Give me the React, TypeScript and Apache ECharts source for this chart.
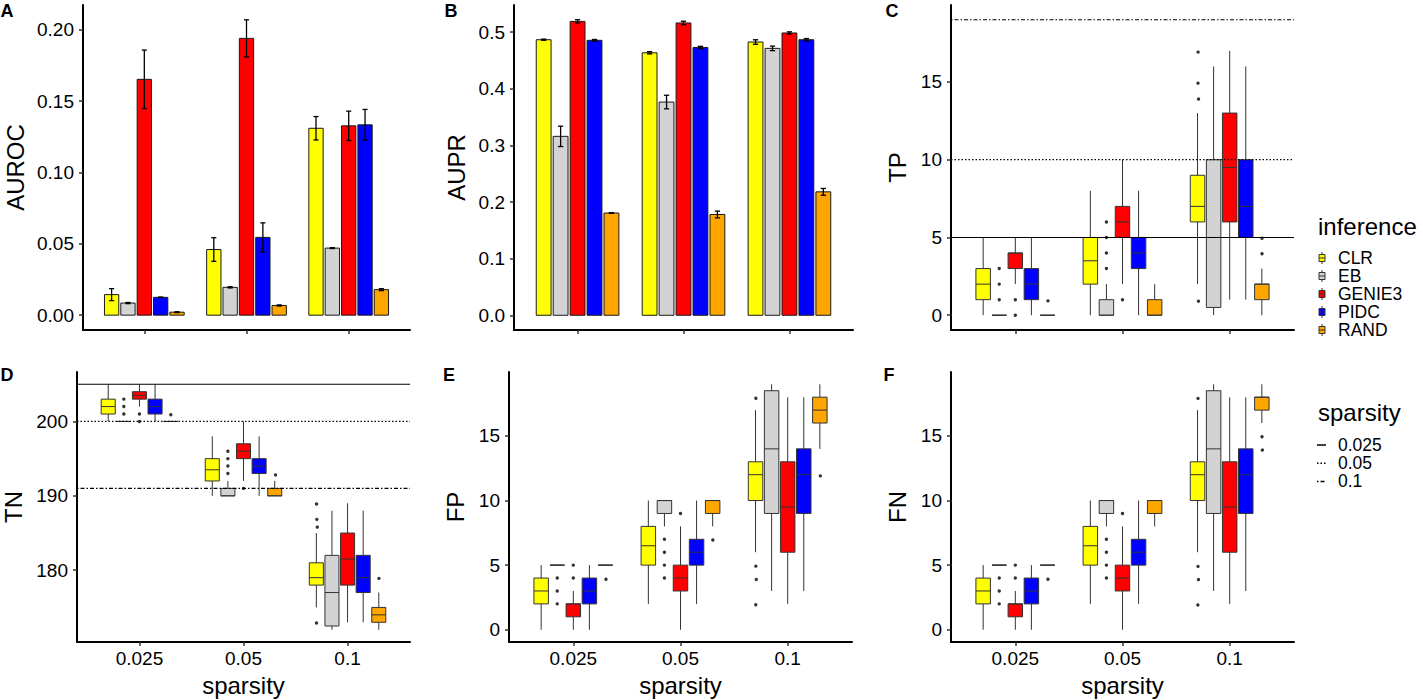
import React, { useEffect, useRef } from 'react';
import * as echarts from 'echarts';

// ---------------- data ----------------
const METHODS = ['CLR', 'EB', 'GENIE3', 'PIDC', 'RAND'];
const METHOD_COLORS = ['#FFFF00', '#D3D3D3', '#FF0000', '#0000FF', '#FFA500'];
const SPARSITY = ['0.025', '0.05', '0.1'];

// AUROC mean / error, [method][sparsity]
const aurocMean = [
  [0.0144, 0.046, 0.131],
  [0.0085, 0.0195, 0.047],
  [0.1653, 0.194, 0.1327],
  [0.0125, 0.0545, 0.1334],
  [0.0021, 0.0068, 0.0179],
];
const aurocErr = [
  [0.0042, 0.0083, 0.0082],
  [0.0004, 0.0004, 0.0003],
  [0.0205, 0.013, 0.0103],
  [0.0002, 0.0102, 0.0108],
  [0.0003, 0.0004, 0.0007],
];

// AUPR mean / error
const auprMean = [
  [0.4867, 0.4636, 0.4826],
  [0.316, 0.3766, 0.4714],
  [0.519, 0.5163, 0.4986],
  [0.4856, 0.473, 0.4867],
  [0.1806, 0.178, 0.218],
];
const auprErr = [
  [0.001, 0.002, 0.004],
  [0.018, 0.012, 0.004],
  [0.003, 0.003, 0.002],
  [0.0015, 0.002, 0.002],
  [0.0005, 0.006, 0.006],
];

// Box stats [min, q1, median, q3, max], [method][sparsity]
const tpStats = [
  [[0, 1, 2, 3, 5], [0, 2, 3.5, 5, 8], [2, 6, 7, 9, 13]],
  [[0, 0, 0, 0, 0], [0, 0, 0, 1, 2], [0, 0.5, 5, 10, 16]],
  [[2, 3, 4, 4, 5], [2, 5, 6, 7, 10], [1, 6, 9.5, 13, 17]],
  [[0, 1, 2, 3, 5], [0, 3, 4, 5, 8], [1, 5, 7, 10, 16]],
  [[0, 0, 0, 0, 0], [0, 0, 0, 1, 2], [0, 1, 2, 2, 3]],
];
const tpOutliers = [
  [[], [], [1, 14, 15, 17]],
  [[1, 2, 3], [3, 4, 5, 6], []],
  [[0, 1], [1], []],
  [[], [], []],
  [[1], [], [4, 5]],
];
const tpLines = [5, 10, 19];

const tnStats = [
  [[200, 201, 202, 203, 205], [190, 192, 193.5, 195, 198], [175, 178, 179, 181, 185]],
  [[200, 200, 200, 200, 200], [190, 190, 190, 191, 192], [172, 172.5, 177, 182, 188]],
  [[202, 203, 203.5, 204, 205], [192, 195, 196, 197, 200], [173, 178, 181.5, 185, 189]],
  [[200, 201, 202, 203, 205], [190, 193, 194, 195, 198], [173, 177, 179, 182, 188]],
  [[200, 200, 200, 200, 200], [190, 190, 190, 191, 192], [172, 173, 174, 175, 177]],
];
const tnOutliers = [
  [[], [], [173, 186, 187, 189]],
  [[201, 202, 203], [193, 194, 195, 196], []],
  [[200, 201], [191], []],
  [[], [], []],
  [[201], [193], [179]],
];
const tnLines = [205, 200, 191];

const fpStats = [
  [[0, 2, 3, 4, 5], [2, 5, 6.5, 8, 10], [6, 10, 12, 13, 17]],
  [[5, 5, 5, 5, 5], [8, 9, 10, 10, 10], [3, 9, 14, 18.5, 19]],
  [[0, 1, 2, 2, 3], [0, 3, 4, 5, 8], [2, 6, 9.5, 13, 18]],
  [[0, 2, 3, 4, 5], [2, 5, 6, 7, 10], [3, 9, 12, 14, 18]],
  [[5, 5, 5, 5, 5], [8, 9, 10, 10, 10], [14, 16, 17, 18, 19]],
];
const fpOutliers = [
  [[], [], [2, 4, 5, 18]],
  [[2, 3, 4], [4, 5, 6, 7], []],
  [[4, 5], [9], []],
  [[], [], []],
  [[4], [7], [12]],
];

const fnStats = [
  [[0, 2, 3, 4, 5], [2, 5, 6.5, 8, 10], [6, 10, 12, 13, 17]],
  [[5, 5, 5, 5, 5], [8, 9, 10, 10, 10], [3, 9, 14, 18.5, 19]],
  [[0, 1, 2, 2, 3], [0, 3, 4, 5, 8], [2, 6, 9.5, 13, 18]],
  [[0, 2, 3, 4, 5], [2, 5, 6, 7, 10], [3, 9, 12, 14, 18]],
  [[5, 5, 5, 5, 5], [8, 9, 10, 10, 10], [16, 17, 18, 18, 19]],
];
const fnOutliers = [
  [[], [], [2, 4, 5, 18]],
  [[2, 3, 4], [4, 5, 6, 7], []],
  [[4, 5], [9], []],
  [[], [], []],
  [[4], [], [14, 15]],
];

// tick labels
const aurocTicks = [0, 0.05, 0.1, 0.15, 0.2];
const auprTicks = [0, 0.1, 0.2, 0.3, 0.4, 0.5];
const countTicks = [0, 5, 10, 15];
const tnTicks = [180, 190, 200];
const LINE_STYLES = ['0.025', '0.05', '0.1'];

// ---------------- layout / style ----------------
const FONT = '"Liberation Sans", Arial, Helvetica, sans-serif';
const BAR_DODGE = 0.16;
const BAR_W = 0.14;
const ERR_CAP = 0.05;
const BOX_DODGE = 0.15;
const BOX_W = 0.135;
const DASHES: (number[] | null)[] = [null, [1.5, 2], [1.5, 2, 4, 2]];

const PANELS = [
  { grid: { left: 83, top: 5, width: 327, height: 325 }, min: -0.0104, max: 0.2174, ticks: aurocTicks, fmt: (v: number) => v.toFixed(2), name: 'AUROC', gap: 56, letter: 'A', lx: 7, ly: 11 },
  { grid: { left: 514, top: 5, width: 339, height: 325 }, min: -0.026, max: 0.548, ticks: auprTicks, fmt: (v: number) => v.toFixed(1), name: 'AUPR', gap: 46, letter: 'B', lx: 451, ly: 11 },
  { grid: { left: 951, top: 5, width: 343, height: 325 }, min: -0.95, max: 19.95, ticks: countTicks, fmt: (v: number) => String(v), name: 'TP', gap: 42, letter: 'C', lx: 892, ly: 11 },
  { grid: { left: 77, top: 372, width: 333, height: 270 }, min: 170.35, max: 206.65, ticks: tnTicks, fmt: (v: number) => String(v), name: 'TN', gap: 52, letter: 'D', lx: 7, ly: 375 },
  { grid: { left: 509, top: 372, width: 343, height: 270 }, min: -0.95, max: 19.95, ticks: countTicks, fmt: (v: number) => String(v), name: 'FP', gap: 42, letter: 'E', lx: 449, ly: 375 },
  { grid: { left: 951, top: 372, width: 343, height: 270 }, min: -0.95, max: 19.95, ticks: countTicks, fmt: (v: number) => String(v), name: 'FN', gap: 42, letter: 'F', lx: 889, ly: 375 },
];

function barSeries(panel: number, means: number[][], errs: number[][]) {
  return METHODS.map((name, m) => ({
    type: 'custom',
    name,
    xAxisIndex: panel,
    yAxisIndex: panel,
    encode: { x: 0, y: 1 },
    data: SPARSITY.map((_, s) => [s + 1, means[m][s], errs[m][s]]),
    renderItem: (_p: any, api: any) => {
      const s = api.value(0);
      const v = api.value(1);
      const e = api.value(2);
      const xc = s + (m - 2) * BAR_DODGE;
      const tl = api.coord([xc - BAR_W / 2, v]);
      const br = api.coord([xc + BAR_W / 2, 0]);
      const et = api.coord([xc, v + e]);
      const eb = api.coord([xc, v - e]);
      const cl = api.coord([xc - ERR_CAP / 2, v]);
      const cw = et[0] - cl[0];
      const es = { stroke: '#000', lineWidth: 1.3 };
      return {
        type: 'group',
        children: [
          { type: 'rect', shape: { x: tl[0], y: tl[1], width: br[0] - tl[0], height: br[1] - tl[1] }, style: { fill: METHOD_COLORS[m], stroke: '#1a1a1a', lineWidth: 1 } },
          { type: 'line', shape: { x1: et[0], y1: et[1], x2: eb[0], y2: eb[1] }, style: es },
          { type: 'line', shape: { x1: et[0] - cw, y1: et[1], x2: et[0] + cw, y2: et[1] }, style: es },
          { type: 'line', shape: { x1: eb[0] - cw, y1: eb[1], x2: eb[0] + cw, y2: eb[1] }, style: es },
        ],
      };
    },
  }));
}

function boxSeries(panel: number, stats: number[][][], outliers: number[][][], lines: number[] | null) {
  const series: any[] = METHODS.map((name, m) => ({
    type: 'custom',
    name,
    xAxisIndex: panel,
    yAxisIndex: panel,
    encode: { x: 0, y: [1, 2, 3, 4, 5] },
    data: SPARSITY.map((_, s) => [s + 1, ...stats[m][s]]),
    renderItem: (_p: any, api: any) => {
      const s = api.value(0);
      const mn = api.value(1), q1 = api.value(2), md = api.value(3), q3 = api.value(4), mx = api.value(5);
      const xc = s + (m - 2) * BOX_DODGE;
      const pMin = api.coord([xc, mn]);
      const pMax = api.coord([xc, mx]);
      const pQ1 = api.coord([xc - BOX_W / 2, q1]);
      const pQ3 = api.coord([xc + BOX_W / 2, q3]);
      const pMd = api.coord([xc, md]);
      const st = { stroke: '#333', lineWidth: 1 };
      return {
        type: 'group',
        children: [
          { type: 'line', shape: { x1: pMin[0], y1: pMin[1], x2: pMin[0], y2: pQ1[1] }, style: st },
          { type: 'line', shape: { x1: pMax[0], y1: pMax[1], x2: pMax[0], y2: pQ3[1] }, style: st },
          { type: 'rect', shape: { x: pQ1[0], y: pQ3[1], width: pQ3[0] - pQ1[0], height: pQ1[1] - pQ3[1] }, style: { fill: METHOD_COLORS[m], stroke: '#333', lineWidth: 1 } },
          { type: 'line', shape: { x1: pQ1[0], y1: pMd[1], x2: pQ3[0], y2: pMd[1] }, style: st },
        ],
      };
    },
  }));
  const od: number[][] = [];
  METHODS.forEach((_, m) => SPARSITY.forEach((_, s) => outliers[m][s].forEach((v) => od.push([s + 1, v, m]))));
  series.push({
    type: 'custom',
    name: 'outliers',
    xAxisIndex: panel,
    yAxisIndex: panel,
    encode: { x: 0, y: 1 },
    data: od,
    renderItem: (_p: any, api: any) => {
      const p = api.coord([api.value(0) + (api.value(2) - 2) * BOX_DODGE, api.value(1)]);
      return { type: 'circle', shape: { cx: p[0], cy: p[1], r: 1.7 }, style: { fill: '#333' } };
    },
  });
  if (lines) {
    series.push({
      type: 'custom',
      name: 'hlines',
      xAxisIndex: panel,
      yAxisIndex: panel,
      z: 5,
      encode: { x: 1, y: 0 },
      data: lines.map((v, k) => [v, k]),
      renderItem: (_p: any, api: any) => {
        const v = api.value(0);
        const k = api.value(1);
        const a = api.coord([0.4, v]);
        const b = api.coord([3.6, v]);
        return { type: 'line', shape: { x1: a[0], y1: a[1], x2: b[0], y2: b[1] }, style: { stroke: '#000', lineWidth: 1.2, lineDash: DASHES[k] || undefined } };
      },
    });
  }
  return series;
}

function buildOption() {
  const grids = PANELS.map((p) => ({ ...p.grid, containLabel: false, outerBoundsMode: 'none' }));
  const xAxis = PANELS.map((_, i) => ({
    type: 'value',
    gridIndex: i,
    min: 0.4,
    max: 3.6,
    axisLine: { show: true, onZero: false, lineStyle: { color: '#000', width: 2 } },
    axisTick: { show: true, customValues: [1, 2, 3], length: 4, lineStyle: { color: '#333', width: 1.5 } },
    axisLabel: { show: i >= 3, customValues: [1, 2, 3], formatter: (v: number) => SPARSITY[Math.round(v) - 1], fontSize: 19, color: '#000', fontFamily: FONT, margin: 7 },
    splitLine: { show: false },
    name: i >= 3 ? 'sparsity' : '',
    nameLocation: 'middle',
    nameGap: 31,
    nameTextStyle: { fontSize: 24, color: '#000', fontFamily: FONT },
  }));
  const yAxis = PANELS.map((p, i) => ({
    type: 'value',
    gridIndex: i,
    min: p.min,
    max: p.max,
    axisLine: { show: true, onZero: false, lineStyle: { color: '#000', width: 2 } },
    axisTick: { show: true, customValues: p.ticks, length: 4, lineStyle: { color: '#333', width: 1.5 } },
    axisLabel: { show: true, customValues: p.ticks, formatter: p.fmt, fontSize: 19, color: '#000', fontFamily: FONT, margin: 9 },
    splitLine: { show: false },
    name: p.name,
    nameLocation: 'middle',
    nameGap: p.gap,
    nameTextStyle: { fontSize: 24, color: '#000', fontFamily: FONT },
  }));

  const series = [
    ...barSeries(0, aurocMean, aurocErr),
    ...barSeries(1, auprMean, auprErr),
    ...boxSeries(2, tpStats, tpOutliers, tpLines),
    ...boxSeries(3, tnStats, tnOutliers, tnLines),
    ...boxSeries(4, fpStats, fpOutliers, null),
    ...boxSeries(5, fnStats, fnOutliers, null),
  ];

  const graphic: any[] = [];
  PANELS.forEach((p) => {
    graphic.push({ type: 'text', x: p.lx, y: p.ly, style: { text: p.letter, font: `bold 18px ${FONT}`, fill: '#000', textAlign: 'center', textVerticalAlign: 'middle' } });
  });
  // inference legend
  graphic.push({ type: 'text', x: 1318, y: 226, style: { text: 'inference', font: `24px ${FONT}`, fill: '#000', textAlign: 'left', textVerticalAlign: 'middle' } });
  METHODS.forEach((name, m) => {
    const y = 258 + m * 18;
    graphic.push({ type: 'line', shape: { x1: 1322, y1: y - 6, x2: 1322, y2: y + 6 }, style: { stroke: '#333', lineWidth: 1 } });
    graphic.push({ type: 'rect', shape: { x: 1319, y: y - 3.5, width: 6, height: 7 }, style: { fill: METHOD_COLORS[m], stroke: '#333', lineWidth: 1 } });
    graphic.push({ type: 'line', shape: { x1: 1319, y1: y, x2: 1325, y2: y }, style: { stroke: '#333', lineWidth: 1 } });
    graphic.push({ type: 'text', x: 1338, y, style: { text: name, font: `17.5px ${FONT}`, fill: '#000', textAlign: 'left', textVerticalAlign: 'middle' } });
  });
  // sparsity legend
  graphic.push({ type: 'text', x: 1318, y: 412, style: { text: 'sparsity', font: `24px ${FONT}`, fill: '#000', textAlign: 'left', textVerticalAlign: 'middle' } });
  LINE_STYLES.forEach((name, k) => {
    const y = 445 + k * 18.2;
    graphic.push({ type: 'line', shape: { x1: 1317, y1: y, x2: 1326, y2: y }, style: { stroke: '#000', lineWidth: 1.5, lineDash: DASHES[k] || undefined } });
    graphic.push({ type: 'text', x: 1338, y, style: { text: name, font: `17.5px ${FONT}`, fill: '#000', textAlign: 'left', textVerticalAlign: 'middle' } });
  });

  return {
    animation: false,
    backgroundColor: '#fff',
    grid: grids,
    xAxis,
    yAxis,
    series,
    graphic,
  };
}

export default function App() {
  const ref = useRef<HTMLDivElement>(null);
  useEffect(() => {
    if (!ref.current) return;
    const chart = echarts.init(ref.current, null, { renderer: 'svg' });
    chart.setOption(buildOption() as any);
    return () => chart.dispose();
  }, []);
  return (
    <div
      ref={ref}
      style={{ position: 'fixed', left: 0, top: 0, width: 1423, height: 700, background: '#fff' }}
    />
  );
}
